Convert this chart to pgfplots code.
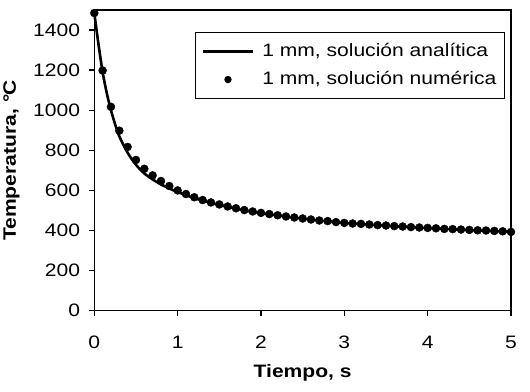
\documentclass[border=0pt]{standalone}
\usepackage{fontspec}
\setmainfont[FakeStretch=1.17]{Liberation Sans}
\usepackage{pgfplots}
\pgfplotsset{compat=1.18}
\pgfplotstableread{
t T
0.0 1485
0.1 1198
0.2 1017
0.3 898
0.4 817
0.5 752
0.6 708
0.7 675
0.8 647
0.9 622
1.0 600
1.1 582
1.2 566
1.3 552
1.4 540
1.5 530
1.6 520
1.7 511
1.8 502
1.9 495
2.0 488
2.1 482
2.2 476
2.3 470
2.4 465
2.5 460
2.6 455
2.7 450
2.8 447
2.9 442
3.0 438
3.1 435
3.2 433
3.3 430
3.4 427
3.5 425
3.6 422
3.7 420
3.8 417
3.9 415
4.0 413
4.1 411
4.2 408
4.3 407
4.4 405
4.5 403
4.6 401
4.7 400
4.8 398
4.9 396
5.0 393
}\numerica
\pgfplotstableread{
t T
0.00 1485
0.05 1330
0.10 1190
0.15 1085
0.20 1000
0.25 930
0.30 870
0.40 788
0.50 728
0.60 685
0.70 655
0.80 630
0.90 610
1.00 592
1.20 562
1.40 538
1.60 518
1.80 501
2.00 487
2.50 459
3.00 438
3.50 424
4.00 412
4.50 402
5.00 393
}\analitica
\begin{document}
\fontsize{18bp}{21bp}\selectfont
\begin{tikzpicture}
\useasboundingbox (-94.3bp,-81.3bp) rectangle (435.7bp,310.7bp);
\begin{axis}[
  at={(0,0)}, anchor=south west,
  scale only axis, width=416.7bp, height=300.7bp,
  xmin=0, xmax=5, ymin=0, ymax=1500,
  xtick={0,1,2,3,4,5}, ytick={0,200,...,1400},
  tick align=outside, tick pos=left, major tick length=5bp,
  axis line style={line width=1.4bp},
  every tick/.style={black, line width=1.4bp},
  clip=false,
  /pgf/number format/assume math mode=true,
  /pgf/number format/1000 sep={},
  ticklabel style={font=\fontsize{18bp}{21bp}\selectfont},
  yticklabel style={anchor=east, inner sep=0pt, xshift=-9bp},
  xticklabel style={anchor=north, inner sep=0pt, yshift=-20bp},
  xlabel={\bfseries Tiempo, s},
  ylabel={\bfseries Temperatura, \kern0.5bp°\kern-1bp C},
  every axis x label/.style={at={(axis description cs:0.5,-0.207)}, anchor=center, font=\fontsize{18bp}{21bp}\selectfont},
  every axis y label/.style={at={(axis description cs:-0.1987,0.5)}, anchor=center, rotate=90, font=\fontsize{18bp}{21bp}\selectfont},
  legend style={at={(1,1)}, anchor=north east, xshift=-6bp, yshift=-22bp,
    draw=black, line width=1.3bp, inner xsep=6bp, inner ysep=9bp,
    font=\fontsize{18bp}{21bp}\selectfont, row sep=8bp,
    cells={anchor=west}},
]
\addplot[black, line width=2.6bp, smooth, no marks,
  legend image code/.code={\draw[black, line width=2.6bp] (0bp,0bp) -- (50bp,0bp); \path (56bp,0bp);}]
  table[x=t, y=T] {\analitica};
\addlegendentry{1 mm, solución analítica}
\addplot[only marks, mark=*, mark size=4bp, black,
  legend image code/.code={\fill[black] (25bp,0bp) circle[radius=3bp]; \path (0bp,0bp) (56bp,0bp);}]
  table[x=t, y=T] {\numerica};
\addlegendentry{1 mm, solución numérica}
\end{axis}
\end{tikzpicture}
\end{document}
